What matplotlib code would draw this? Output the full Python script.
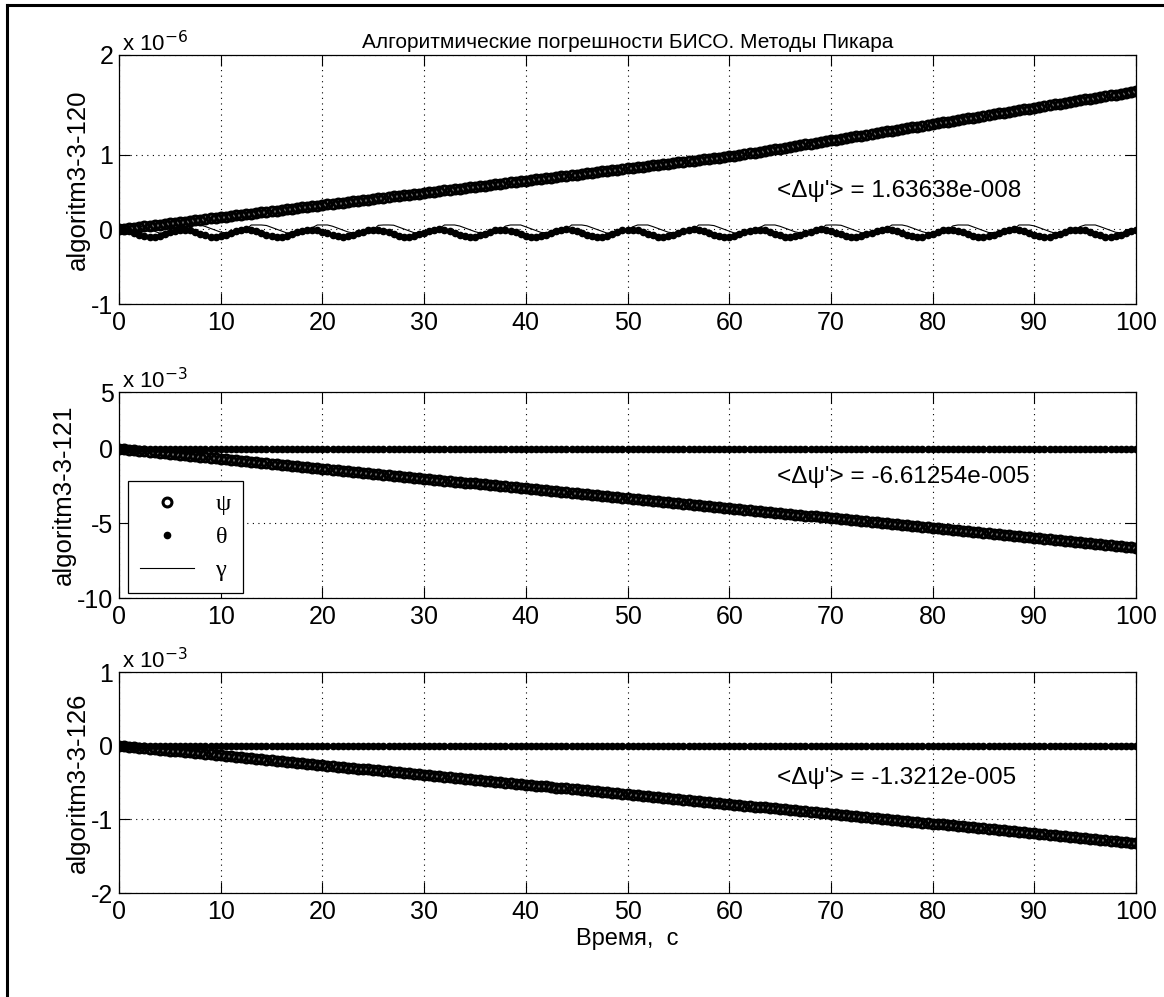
import numpy as np
import matplotlib
matplotlib.use("Agg")
import matplotlib.pyplot as plt
from matplotlib.lines import Line2D

FONT = ['Liberation Sans Narrow', 'Liberation Sans', 'DejaVu Sans']
plt.rcParams['font.family'] = FONT
plt.rcParams['mathtext.fontset'] = 'custom'
plt.rcParams['mathtext.rm'] = 'Liberation Sans Narrow'
plt.rcParams['mathtext.it'] = 'Liberation Sans Narrow'
plt.rcParams['axes.unicode_minus'] = False

# ---------------- data ----------------
title = "Алгоритмические погрешности БИСО. Методы Пикара"
xlabel = "Время,  с"
ylabels = ["algoritm3-3-120", "algoritm3-3-121", "algoritm3-3-126"]
scale_labels = [r"x 10$^{-6}$", r"x 10$^{-3}$", r"x 10$^{-3}$"]
annotations = ["<\u0394\u03c8'> = 1.63638e-008",
               "<\u0394\u03c8'> = -6.61254e-005",
               "<\u0394\u03c8'> = -1.3212e-005"]
legend_labels = ["\u03c8", "\u03b8", "\u03b3"]
xticks = [0, 10, 20, 30, 40, 50, 60, 70, 80, 90, 100]
yticks = [[-1, 0, 1, 2], [-10, -5, 0, 5], [-2, -1, 0, 1]]
ylims = [(-1, 2), (-10, 5), (-2, 1)]

t_half = np.arange(0, 100.5, 0.5)  # sample times, s (every 0.5 s)

# psi, panel 1 (x 1e-6)
psi1 = [
    0.000, 0.008, 0.016, 0.025, 0.033, 0.041, 0.049, 0.057, 0.065, 0.074, 0.082, 0.090, 0.098, 0.106, 0.115, 0.123, 0.131, 0.139, 0.147, 0.155,
    0.164, 0.172, 0.180, 0.189, 0.197, 0.205, 0.213, 0.221, 0.229, 0.238, 0.246, 0.254, 0.262, 0.270, 0.279, 0.287, 0.295, 0.303, 0.311, 0.319,
    0.327, 0.335, 0.343, 0.352, 0.360, 0.368, 0.376, 0.384, 0.392, 0.401, 0.409, 0.417, 0.425, 0.433, 0.442, 0.450, 0.458, 0.466, 0.474, 0.482,
    0.491, 0.499, 0.507, 0.516, 0.524, 0.532, 0.540, 0.548, 0.556, 0.565, 0.573, 0.581, 0.589, 0.597, 0.606, 0.614, 0.622, 0.630, 0.638, 0.646,
    0.655, 0.663, 0.671, 0.680, 0.688, 0.696, 0.704, 0.712, 0.720, 0.729, 0.737, 0.745, 0.753, 0.761, 0.770, 0.778, 0.786, 0.794, 0.802, 0.810,
    0.818, 0.826, 0.834, 0.843, 0.851, 0.859, 0.867, 0.875, 0.883, 0.892, 0.900, 0.908, 0.916, 0.924, 0.933, 0.941, 0.949, 0.957, 0.965, 0.973,
    0.982, 0.990, 0.998, 1.007, 1.015, 1.023, 1.031, 1.039, 1.047, 1.056, 1.064, 1.072, 1.080, 1.088, 1.097, 1.105, 1.113, 1.121, 1.129, 1.137,
    1.145, 1.153, 1.161, 1.170, 1.178, 1.186, 1.194, 1.202, 1.210, 1.219, 1.227, 1.235, 1.243, 1.251, 1.260, 1.268, 1.276, 1.284, 1.292, 1.300,
    1.309, 1.317, 1.325, 1.334, 1.342, 1.350, 1.358, 1.366, 1.374, 1.383, 1.391, 1.399, 1.407, 1.415, 1.424, 1.432, 1.440, 1.448, 1.456, 1.464,
    1.473, 1.481, 1.489, 1.498, 1.506, 1.514, 1.522, 1.530, 1.538, 1.547, 1.555, 1.563, 1.571, 1.579, 1.588, 1.596, 1.604, 1.612, 1.620, 1.628,
    1.636]
# psi, panel 2 (x 1e-3)
psi2 = [
    0.000, -0.033, -0.066, -0.099, -0.132, -0.165, -0.198, -0.231, -0.265, -0.298, -0.331, -0.364, -0.397, -0.430, -0.463, -0.496, -0.529, -0.562, -0.595, -0.628,
    -0.661, -0.694, -0.727, -0.760, -0.793, -0.826, -0.859, -0.892, -0.926, -0.959, -0.992, -1.025, -1.058, -1.091, -1.124, -1.157, -1.190, -1.223, -1.256, -1.289,
    -1.323, -1.356, -1.389, -1.422, -1.455, -1.488, -1.521, -1.554, -1.588, -1.621, -1.654, -1.687, -1.720, -1.753, -1.786, -1.819, -1.852, -1.885, -1.918, -1.951,
    -1.984, -2.017, -2.050, -2.083, -2.116, -2.149, -2.182, -2.215, -2.249, -2.282, -2.315, -2.348, -2.381, -2.414, -2.447, -2.480, -2.513, -2.546, -2.579, -2.612,
    -2.645, -2.678, -2.711, -2.744, -2.777, -2.810, -2.843, -2.876, -2.910, -2.943, -2.976, -3.009, -3.042, -3.075, -3.108, -3.141, -3.174, -3.207, -3.240, -3.273,
    -3.306, -3.339, -3.372, -3.405, -3.438, -3.471, -3.504, -3.537, -3.571, -3.604, -3.637, -3.670, -3.703, -3.736, -3.769, -3.802, -3.835, -3.868, -3.901, -3.934,
    -3.968, -4.001, -4.034, -4.067, -4.100, -4.133, -4.166, -4.199, -4.233, -4.266, -4.299, -4.332, -4.365, -4.398, -4.431, -4.464, -4.497, -4.530, -4.563, -4.596,
    -4.629, -4.662, -4.695, -4.728, -4.761, -4.794, -4.827, -4.860, -4.894, -4.927, -4.960, -4.993, -5.026, -5.059, -5.092, -5.125, -5.158, -5.191, -5.224, -5.257,
    -5.290, -5.323, -5.356, -5.389, -5.422, -5.455, -5.488, -5.521, -5.555, -5.588, -5.621, -5.654, -5.687, -5.720, -5.753, -5.786, -5.819, -5.852, -5.885, -5.918,
    -5.951, -5.984, -6.017, -6.050, -6.083, -6.116, -6.149, -6.182, -6.216, -6.249, -6.282, -6.315, -6.348, -6.381, -6.414, -6.447, -6.480, -6.513, -6.546, -6.579,
    -6.613]
# psi, panel 3 (x 1e-3)
psi3 = [
    0.000, -0.007, -0.013, -0.020, -0.026, -0.033, -0.040, -0.046, -0.053, -0.059, -0.066, -0.073, -0.079, -0.086, -0.092, -0.099, -0.106, -0.112, -0.119, -0.126,
    -0.132, -0.139, -0.145, -0.152, -0.158, -0.165, -0.172, -0.178, -0.185, -0.191, -0.198, -0.205, -0.211, -0.218, -0.224, -0.231, -0.238, -0.244, -0.251, -0.258,
    -0.264, -0.271, -0.277, -0.284, -0.290, -0.297, -0.304, -0.310, -0.317, -0.323, -0.330, -0.337, -0.343, -0.350, -0.356, -0.363, -0.370, -0.376, -0.383, -0.390,
    -0.396, -0.403, -0.409, -0.416, -0.422, -0.429, -0.436, -0.442, -0.449, -0.455, -0.462, -0.469, -0.475, -0.482, -0.488, -0.495, -0.502, -0.508, -0.515, -0.522,
    -0.528, -0.535, -0.541, -0.548, -0.554, -0.561, -0.568, -0.574, -0.581, -0.587, -0.594, -0.601, -0.607, -0.614, -0.620, -0.627, -0.634, -0.640, -0.647, -0.654,
    -0.661, -0.668, -0.674, -0.681, -0.687, -0.694, -0.701, -0.707, -0.714, -0.720, -0.727, -0.734, -0.740, -0.747, -0.753, -0.760, -0.767, -0.773, -0.780, -0.787,
    -0.793, -0.800, -0.806, -0.813, -0.819, -0.826, -0.833, -0.839, -0.846, -0.852, -0.859, -0.866, -0.872, -0.879, -0.885, -0.892, -0.899, -0.905, -0.912, -0.919,
    -0.925, -0.932, -0.938, -0.945, -0.951, -0.958, -0.965, -0.971, -0.978, -0.984, -0.991, -0.998, -1.004, -1.011, -1.017, -1.024, -1.031, -1.037, -1.044, -1.051,
    -1.057, -1.064, -1.070, -1.077, -1.083, -1.090, -1.097, -1.103, -1.110, -1.116, -1.123, -1.130, -1.136, -1.143, -1.149, -1.156, -1.163, -1.169, -1.176, -1.183,
    -1.189, -1.196, -1.202, -1.209, -1.215, -1.222, -1.229, -1.235, -1.242, -1.248, -1.255, -1.262, -1.268, -1.275, -1.281, -1.288, -1.295, -1.301, -1.308, -1.315,
    -1.321]

# theta, panel 1 (x 1e-9)
theta1_nano = [
    0, -6, -23, -46, -71, -90, -100, -97, -83, -61, -36, -15, -2,
    -1, -12, -33, -57, -80, -96, -100, -92, -74, -50, -26, -8, 0,
    -5, -20, -43, -68, -88, -99, -98, -85, -64, -39, -17, -3,
    -1, -10, -30, -54, -77, -94, -100, -94, -77, -53, -29, -10, -1,
    -3, -18, -40, -65, -86, -98, -99, -87, -67, -42, -20, -4,
    0, -8, -27, -51, -75, -92, -100, -95, -79, -56, -32, -12, -1,
    -2, -15, -37, -61, -83, -97, -99, -90, -70, -46, -22, -6,
    0, -7, -24, -47, -72, -91, -100, -96, -82, -60, -35, -14, -2,
    -1, -13, -34, -58, -81, -96, -100, -91, -73, -49, -25, -7, 0,
    -5, -21, -44, -69, -89, -99, -98, -84, -63, -38, -16, -3,
    -1, -11, -30, -55, -78, -95, -100, -93, -76, -52, -28, -9, 0,
    -4, -18, -41, -65, -86, -98, -99, -87, -66, -41, -19, -4,
    0, -9, -27, -52, -75, -93, -100, -95, -79, -56, -31, -11, -1,
    -3, -16, -38, -62, -84, -97, -99, -89, -69, -45, -22, -5,
    0, -7, -25, -48, -72, -91, -100, -96, -81, -59, -34, -13, -2,
    -2, -13, -34, -59, -81, -96, -100, -91, -72, -48, -24, -7]
# gamma, panel 1 (x 1e-9)
gamma1_nano = [
    0, 60, 60, 60, 50, 25, 0, -25, -50, -39, -28, -17, -6,
    33, 60, 60, 60, 39, 14, -11, -36, -45, -34, -23, -12, -1,
    60, 60, 60, 53, 28, 3, -22, -47, -41, -30, -19, -8,
    23, 60, 60, 60, 43, 18, -8, -33, -47, -36, -25, -14, -3,
    55, 60, 60, 57, 32, 7, -18, -43, -42, -31, -20, -9,
    13, 60, 60, 60, 46, 21, -4, -29, -48, -37, -26, -15, -4,
    45, 60, 60, 60, 35, 10, -15, -40, -43, -32, -21, -11,
    3, 60, 60, 60, 49, 24, -1, -26, -50, -39, -28, -17, -6,
    35, 60, 60, 60, 38, 13, -12, -37, -45, -34, -23, -12, -1,
    60, 60, 60, 52, 27, 2, -23, -48, -40, -29, -18, -7,
    25, 60, 60, 60, 42, 17, -8, -33, -46, -35, -24, -13, -3,
    58, 60, 60, 56, 31, 6, -19, -44, -42, -31, -20, -9,
    15, 60, 60, 60, 45, 20, -5, -30, -48, -37, -26, -15, -4,
    48, 60, 60, 59, 34, 9, -16, -41, -43, -32, -21, -10,
    5, 60, 60, 60, 48, 23, -2, -27, -49, -38, -27, -16, -5,
    38, 60, 60, 60, 37, 12, -13, -38, -45, -34, -23, -12]
# theta / gamma in panels 2 and 3 stay at zero
theta2 = [0.0] * 201
gamma2 = [0.0] * 201
theta3 = [0.0] * 201
gamma3 = [0.0] * 201

assert len(theta1_nano) == 201 and len(gamma1_nano) == 201
assert len(psi1) == len(psi2) == len(psi3) == 201

theta1 = np.array(theta1_nano) / 1000.0
gamma1 = np.array(gamma1_nano) / 1000.0

psis = [psi1, psi2, psi3]
thetas = [theta1, theta2, theta3]
gammas = [gamma1, gamma2, gamma3]

# annotation positions (data coords)
ann_pos = [(64.7, 0.52), (64.7, -1.9), (64.7, -0.44)]


# y axes of the reference are not uniform above a break value
def piecewise(brk, ratio):
    def fwd(y):
        y = np.asarray(y, dtype=float)
        return np.where(y <= brk, y, brk + (y - brk) * ratio)

    def inv(u):
        u = np.asarray(u, dtype=float)
        return np.where(u <= brk, u, brk + (u - brk) / ratio)
    return fwd, inv


scales = [piecewise(1.0, 1.34), piecewise(0.0, 0.765), None]

# ---------------- figure ----------------
W, H = 1164, 997
fig = plt.figure(figsize=(W / 100, H / 100), dpi=100)
fig.patch.set_facecolor('white')

# frame lines (left + top)
fig.add_artist(Line2D([7 / W, 7 / W], [0, 1 - 5 / H], color='black', lw=2.2,
                      transform=fig.transFigure))
fig.add_artist(Line2D([7 / W, 1], [1 - 5 / H, 1 - 5 / H], color='black', lw=2.2,
                      transform=fig.transFigure))

# axes boxes in pixels: (top, bottom)
boxes = [(55, 304), (392, 598), (672, 893)]
left_px, right_px = 119, 1136

axes = []
for i, (top, bot) in enumerate(boxes):
    ax = fig.add_axes([left_px / W, 1 - bot / H, (right_px - left_px) / W, (bot - top) / H])
    axes.append(ax)
    if scales[i] is not None:
        ax.set_yscale('function', functions=scales[i])
    ax.plot(t_half, psis[i], linestyle='none', marker='o', ms=6.4, mfc='none',
            mec='black', mew=2.2, label=legend_labels[0])
    ax.plot(t_half, thetas[i], linestyle='none', marker='.', ms=9,
            color='black', label=legend_labels[1])
    ax.plot(t_half, gammas[i], linestyle='-', lw=0.8, color='black',
            label=legend_labels[2])
    ax.set_xlim(0, 100)
    ax.set_ylim(*ylims[i])
    ax.set_xticks(xticks)
    ax.set_yticks(yticks[i])
    ax.set_yticklabels([str(v) for v in yticks[i]])
    ax.minorticks_off()
    ax.grid(True, linestyle=(0, (1, 4)), color='black', lw=0.8)
    ax.tick_params(direction='in', top=True, right=True, length=8, width=0.8,
                   labelsize=18)
    ax.tick_params(axis='x', pad=5)
    ax.tick_params(axis='y', pad=4)
    for s in ax.spines.values():
        s.set_linewidth(0.9)
    ax.set_ylabel(ylabels[i], fontsize=18.5, labelpad=1)
    ax.text(ann_pos[i][0], ann_pos[i][1], annotations[i], fontsize=17.5,
            ha='left', va='center')
    fig.text(122 / W, 1 - (top - 11) / H, scale_labels[i], fontsize=16,
             ha='left', va='center')

axes[0].set_title(title, fontsize=15, pad=5)
axes[2].set_xlabel(xlabel, fontsize=17, labelpad=3)

leg = axes[1].legend(loc='upper left', bbox_to_anchor=(128 / W, 1 - 481 / H),
                     bbox_transform=fig.transFigure, borderaxespad=0,
                     frameon=True, fancybox=False, edgecolor='black',
                     framealpha=1, handlelength=2.2, numpoints=1,
                     borderpad=0.5, labelspacing=0.45, handletextpad=0.9,
                     prop={'family': ['Liberation Serif', 'DejaVu Serif'], 'size': 17.5})
leg.get_frame().set_linewidth(0.9)

fig.savefig("out.png", dpi=100)
